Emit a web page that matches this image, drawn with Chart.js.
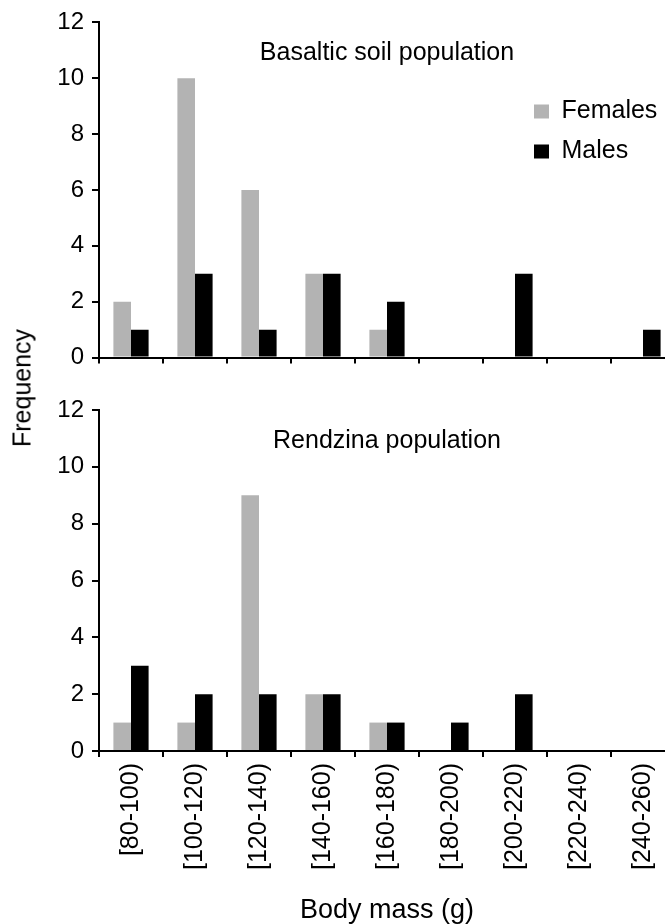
<!DOCTYPE html>
<html>
<head>
<meta charset="utf-8">
<script src="https://cdn.jsdelivr.net/npm/chart.js@4.4.1/dist/chart.umd.min.js"></script>
<style>
  html, body { margin: 0; padding: 0; background: #fff; overflow: hidden; }
  #wrap { position: relative; width: 665px; height: 924px; overflow: hidden; }
  .panel { position: absolute; left: 0; }
  #freq {
    position: absolute; left: 22px; top: 388px;
    transform: translate(-50%, -50%) rotate(-90deg);
    font: 25px "Liberation Sans", Arial, sans-serif; line-height: 1;
    white-space: nowrap; color: #000;
  }
</style>
</head>
<body>
<div id="wrap">
  <canvas id="c1" class="panel" style="top:0" width="680" height="380"></canvas>
  <canvas id="c2" class="panel" style="top:380px" width="680" height="550"></canvas>
  <div id="freq">Frequency</div>
</div>
<script>
const massClasses = ['[80-100)', '[100-120)', '[120-140)', '[140-160)', '[160-180)',
                     '[180-200)', '[200-220)', '[220-240)', '[240-260)'];
const basalticFemales = [2, 10, 6, 3, 1, 0, 0, 0, 0];
const basalticMales   = [1, 3, 1, 3, 2, 0, 3, 0, 1];
const rendzinaFemales = [1, 1, 9, 2, 1, 0, 0, 0, 0];
const rendzinaMales   = [3, 2, 2, 2, 1, 1, 2, 0, 0];
const yTicks = [0, 2, 4, 6, 8, 10, 12];

Chart.defaults.font.family = '"Liberation Sans", Arial, sans-serif';
Chart.defaults.color = '#000';

// title drawn inside the plot area
const panelTitle = {
  id: 'panelTitle',
  afterDraw(chart, args, opts) {
    const { ctx, chartArea } = chart;
    ctx.save();
    ctx.font = '25px "Liberation Sans", Arial, sans-serif';
    ctx.fillStyle = '#000';
    ctx.textAlign = 'center';
    ctx.textBaseline = 'middle';
    ctx.fillText(opts.text, (chartArea.left + chartArea.right) / 2, chartArea.top + opts.offset);
    ctx.restore();
  }
};

// move the legend box to its spot inside the plot
const legendSpot = {
  id: 'legendSpot',
  afterLayout(chart, args, opts) {
    if (!chart.legend || !opts.left) return;
    chart.legend.left = opts.left;
    chart.legend.top = opts.top;
  }
};

function makeChart(id, females, males, title, showLegend, bottomAxis) {
  const ctx = document.getElementById(id);
  return new Chart(ctx, {
    type: 'bar',
    data: {
      labels: massClasses,
      datasets: [{
        label: 'Females',
        data: females,
        backgroundColor: '#b3b3b3',
        borderWidth: 0,
        categoryPercentage: 0.55,
        barPercentage: 1.0
      }, {
        label: 'Males',
        data: males,
        backgroundColor: '#000000',
        borderWidth: 0,
        categoryPercentage: 0.55,
        barPercentage: 1.0
      }]
    },
    options: {
      responsive: false,
      animation: false,
      layout: { padding: { left: 0, right: 5, top: showLegend ? 16 : 30, bottom: 0 } },
      plugins: {
        legend: {
          display: showLegend,
          position: 'chartArea',
          align: 'start',
          labels: {
            boxWidth: 15,
            boxHeight: 14,
            padding: 15,
            font: { size: 25 }
          }
        },
        legendSpot: showLegend ? { left: 519, top: 84 } : {},
        tooltip: { enabled: false },
        panelTitle: { text: title, offset: 31 }
      },
      scales: {
        x: {
          grid: {
            offset: true,
            drawOnChartArea: false,
            drawTicks: true,
            tickLength: 6,
            color: '#000',
            lineWidth: 2
          },
          border: { color: '#000', width: 2 },
          ticks: {
            display: bottomAxis,
            autoSkip: false,
            minRotation: 90,
            maxRotation: 90,
            padding: 6,
            font: { size: 25 }
          },
          title: {
            display: bottomAxis,
            text: 'Body mass (g)',
            font: { size: 27 },
            padding: { top: 0, bottom: 3 }
          },
          afterFit(scale) {
            scale.height = bottomAxis ? 179 : 21;
          }
        },
        y: {
          min: 0,
          max: 12,
          afterBuildTicks(scale) {
            scale.ticks = yTicks.map(v => ({ value: v }));
          },
          grid: {
            drawOnChartArea: false,
            drawTicks: true,
            tickLength: 7,
            color: '#000',
            lineWidth: 2
          },
          border: { color: '#000', width: 2 },
          ticks: {
            padding: 8,
            font: { size: 24 }
          },
          afterFit(scale) {
            scale.width = 99;
          }
        }
      }
    },
    plugins: [panelTitle, legendSpot]
  });
}

makeChart('c1', basalticFemales, basalticMales, 'Basaltic soil population', true, false);
makeChart('c2', rendzinaFemales, rendzinaMales, 'Rendzina population', false, true);
</script>
</body>
</html>
